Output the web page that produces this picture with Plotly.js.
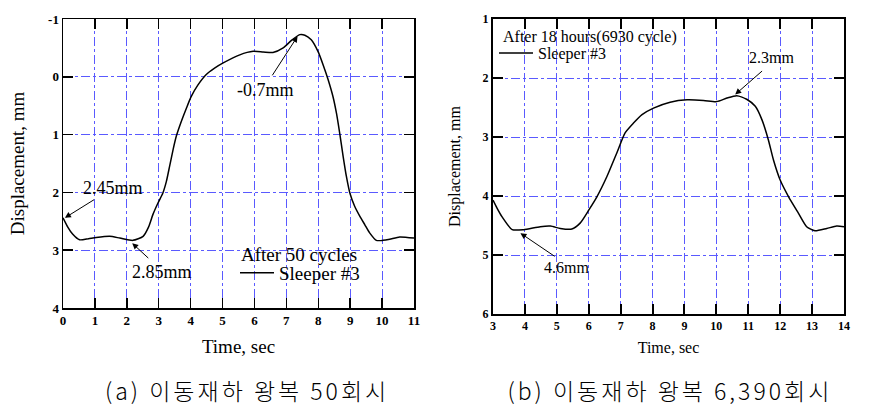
<!DOCTYPE html>
<html>
<head>
<meta charset="utf-8">
<script src="https://cdn.plot.ly/plotly-3.0.1.min.js"></script>
<style>html,body{margin:0;padding:0;background:#fff;}#chart{width:875px;height:409px;}</style>
</head>
<body>
<div id="chart"></div>
<script>
// (a) After 50 cycles
var timeA = [0, 0.15, 0.3, 0.52, 0.8, 1.04, 1.46, 1.78, 2.19, 2.51, 2.68, 2.82, 2.98, 3.13, 3.24, 3.34, 3.45, 3.55, 3.71, 3.87, 4.02, 4.23, 4.49, 4.75, 5.02, 5.54, 5.96, 6.27, 6.58, 6.9, 7.16, 7.42, 7.58, 7.78, 7.99, 8.15, 8.31, 8.46, 8.57, 8.67, 8.78, 8.88, 8.99, 9.14, 9.3, 9.46, 9.61, 9.82, 10.03, 10.24, 10.55, 11];
var dispA = [2.44, 2.6, 2.72, 2.82, 2.8, 2.78, 2.76, 2.79, 2.83, 2.76, 2.6, 2.38, 2.18, 2.01, 1.81, 1.55, 1.26, 1.03, 0.77, 0.54, 0.34, 0.14, -0.04, -0.15, -0.24, -0.38, -0.44, -0.43, -0.42, -0.5, -0.63, -0.73, -0.72, -0.64, -0.44, -0.21, 0.05, 0.34, 0.63, 0.97, 1.38, 1.72, 2.01, 2.24, 2.41, 2.56, 2.7, 2.83, 2.83, 2.81, 2.77, 2.79];
// (b) After 18 hours (6930 cycle)
var timeB = [3, 3.13, 3.28, 3.6, 3.96, 4.48, 4.8, 5.11, 5.47, 5.73, 6.0, 6.26, 6.57, 6.88, 7.14, 7.41, 7.67, 8.03, 8.55, 9.08, 9.6, 10.01, 10.33, 10.64, 10.95, 11.22, 11.43, 11.63, 11.79, 12.0, 12.26, 12.57, 12.83, 13.09, 13.46, 13.77, 14];
var dispB = [4.07, 4.21, 4.35, 4.57, 4.57, 4.52, 4.51, 4.55, 4.56, 4.46, 4.24, 4.01, 3.67, 3.27, 2.93, 2.76, 2.62, 2.51, 2.41, 2.37, 2.38, 2.4, 2.34, 2.3, 2.36, 2.48, 2.71, 3.05, 3.39, 3.73, 4.01, 4.29, 4.52, 4.59, 4.55, 4.51, 4.52];

var xTicksA = [0,1,2,3,4,5,6,7,8,9,10,11];
var yTicksA = [-1,0,1,2,3,4];
var yTickTextA = ['-1','0','1','2','3','4'];
var xTicksB = [3,4,5,6,7,8,9,10,11,12,13,14];
var yTicksB = [1,2,3,4,5,6];

var legendTitleA = 'After 50 cycles';
var legendTitleB = 'After 18 hours(6930 cycle)';
var seriesName = 'Sleeper #3';
var captionA = '(a) 이동재하 왕복 50회시';
var captionB = '(b) 이동재하 왕복 6,390회시';

var serif = 'Liberation Serif, Times New Roman, serif';
var gridColor = '#5a5aff';

function axisBase(extra) {
  var a = {
    showline: true, linecolor: '#000', mirror: 'ticks',
    ticks: 'inside', ticklen: 10, tickcolor: '#000',
    showgrid: true, gridcolor: gridColor, griddash: 'dashdot', gridwidth: 1,
    zeroline: false, tickmode: 'array',
    fixedrange: true
  };
  for (var k in extra) a[k] = extra[k];
  return a;
}
function f(sz) { return {family: serif, size: sz, color: '#000'}; }

var traces = [
  {x: timeA, y: dispA, xaxis: 'x', yaxis: 'y', type: 'scatter', mode: 'lines', name: seriesName,
   line: {color: '#000', width: 1.5, shape: 'spline', smoothing: 0.6}, legend: 'legend'},
  {x: timeB, y: dispB, xaxis: 'x2', yaxis: 'y2', type: 'scatter', mode: 'lines', name: seriesName,
   line: {color: '#000', width: 1.5, shape: 'spline', smoothing: 0.6}, legend: 'legend2'}
];

function arrowAnn(xr, yr, hx, hy, tx, ty) {
  return {xref: xr, yref: yr, x: hx, y: hy, axref: xr, ayref: yr, ax: tx, ay: ty,
          text: '', showarrow: true, arrowhead: 2, arrowsize: 1.2, arrowwidth: 1, arrowcolor: '#000'};
}
function textAnn(xr, yr, x, y, t, sz) {
  return {xref: xr, yref: yr, x: x, y: y, text: t, showarrow: false, font: f(sz), xanchor: 'center', yanchor: 'middle'};
}

var annotations = [
  arrowAnn('x', 'y', 0.06, 2.44, 1.02, 2.11),
  textAnn('x', 'y', 1.57, 1.92, '2.45mm', 18),
  arrowAnn('x', 'y', 2.17, 2.88, 2.72, 3.16),
  textAnn('x', 'y', 3.1, 3.37, '2.85mm', 18),
  arrowAnn('x', 'y', 7.35, -0.7, 6.53, 0.0),
  textAnn('x', 'y', 6.34, 0.22, '-0.7mm', 18),
  arrowAnn('x2', 'y2', 10.59, 2.28, 11.48, 1.86),
  textAnn('x2', 'y2', 11.73, 1.66, '2.3mm', 16),
  arrowAnn('x2', 'y2', 3.86, 4.63, 4.98, 5.04),
  textAnn('x2', 'y2', 5.3, 5.22, '4.6mm', 16),
  {xref: 'paper', yref: 'paper', x: 239/875, y: (409-255)/409, text: legendTitleA, showarrow: false,
   font: f(19), xanchor: 'left', yanchor: 'middle'},
  {xref: 'paper', yref: 'paper', x: 501/875, y: (409-37)/409, text: legendTitleB, showarrow: false,
   font: f(16), xanchor: 'left', yanchor: 'middle'},
  {xref: 'paper', yref: 'paper', x: 247/875, y: (409-390)/409, text: captionA, showarrow: false,
   xanchor: 'center', yanchor: 'middle',
   font: {family: 'Noto Sans CJK KR', size: 23, color: '#000', weight: 300}},
  {xref: 'paper', yref: 'paper', x: 670/875, y: (409-390)/409, text: captionB, showarrow: false,
   xanchor: 'center', yanchor: 'middle',
   font: {family: 'Noto Sans CJK KR', size: 23, color: '#000', weight: 300}}
];

var layout = {
  width: 875, height: 409,
  margin: {l: 0, r: 0, t: 0, b: 0},
  paper_bgcolor: '#fff', plot_bgcolor: '#fff',
  showlegend: true,
  xaxis: axisBase({domain: [63/875, 414/875], range: [0, 11], tickvals: xTicksA, linewidth: 1.5, tickwidth: 1.5, anchor: 'y',
    tickfont: {family: serif, size: 13, color: '#000', weight: 'bold'},
    title: {text: 'Time, sec', font: f(19), standoff: 12}}),
  yaxis: axisBase({domain: [(409-308)/409, (409-19)/409], range: [4, -1], tickvals: yTicksA, ticktext: yTickTextA,
    linewidth: 1.5, tickwidth: 1.5, anchor: 'x',
    tickfont: {family: serif, size: 13, color: '#000', weight: 'bold'},
    title: {text: 'Displacement, mm', font: f(19), standoff: 18}}),
  xaxis2: axisBase({domain: [493/875, 844/875], range: [3, 14], tickvals: xTicksB, linewidth: 2, tickwidth: 2, anchor: 'y2',
    tickfont: {family: serif, size: 12, color: '#000', weight: 'bold'},
    title: {text: 'Time, sec', font: f(16), standoff: 9}}),
  yaxis2: axisBase({domain: [(409-314)/409, (409-19)/409], range: [6, 1], tickvals: yTicksB, linewidth: 2, tickwidth: 2, anchor: 'x2',
    tickfont: {family: serif, size: 12, color: '#000', weight: 'bold'},
    title: {text: 'Displacement, mm', font: f(16), standoff: 18}}),
  legend: {x: 235/875, y: (409-254)/409, xanchor: 'left', yanchor: 'top', bgcolor: 'rgba(0,0,0,0)',
    font: f(19), itemwidth: 34, tracegroupgap: 0},
  legend2: {x: 494/875, y: (409-36)/409, xanchor: 'left', yanchor: 'top', bgcolor: 'rgba(0,0,0,0)',
    font: f(16), itemwidth: 34, tracegroupgap: 0},
  annotations: annotations
};

Plotly.newPlot('chart', traces, layout, {displayModeBar: false, staticPlot: true}).then(function () {
  var texts = document.querySelectorAll('.annotation-text');
  texts.forEach(function (t) {
    if (t.textContent === captionA || t.textContent === captionB) {
      t.style.letterSpacing = '3px';
    }
  });
});
</script>
</body>
</html>
